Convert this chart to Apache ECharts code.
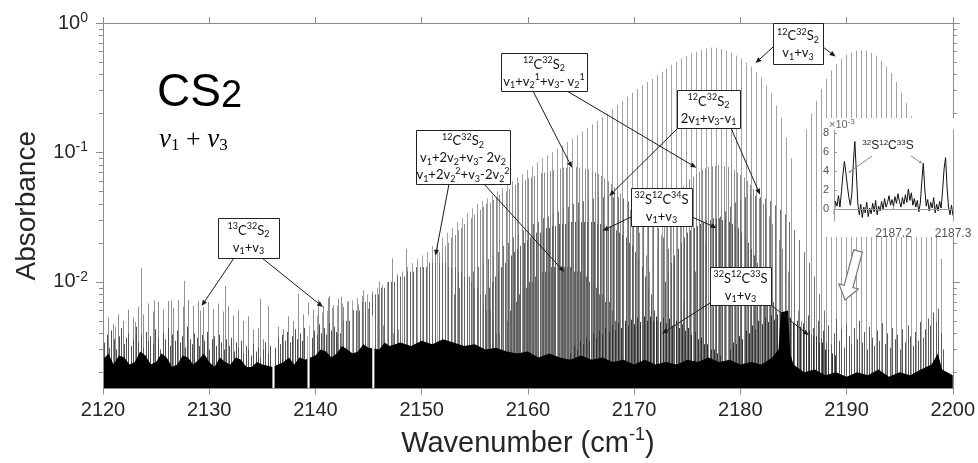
<!DOCTYPE html>
<html>
<head>
<meta charset="utf-8">
<title>CS2 v1+v3</title>
<script src="https://cdn.jsdelivr.net/npm/echarts@6.0.0/dist/echarts.min.js"></script>
<style>
  html, body { margin: 0; padding: 0; background: #fff; }
  #chart { width: 978px; height: 463px; }
</style>
</head>
<body>
<div id="chart"></div>
<script>
// log axis limits (absorbance)
var yMin = 0.0015, yMax = 1;
var majorTicks = [0.01, 0.1, 1];
var minorTicks = [0.002, 0.003, 0.004, 0.005, 0.006, 0.007, 0.008, 0.009,
  0.02, 0.03, 0.04, 0.05, 0.06, 0.07, 0.08, 0.09,
  0.2, 0.3, 0.4, 0.5, 0.6, 0.7, 0.8, 0.9];

// line peak heights in milli-absorbance, one value per line
// 12C32S2 v1+v3, P branch (from 2184.8 downwards)
var mainP_start = 2184.8, mainP_step = -0.47;
var mainP = [90, 130, 185, 230, 285, 330, 380, 420, 460, 495,
  530, 560, 590, 610, 630, 645, 645, 635, 620, 600,
  580, 555, 530, 500, 475, 445, 420, 395, 370, 350,
  330, 310, 290, 270, 250, 232, 215, 200, 188, 176,
  165, 155, 145, 136, 128, 120, 113, 106, 100, 95,
  90, 84, 78, 73, 68, 64, 60, 56, 53, 50,
  47, 44, 42, 40, 37, 34, 31, 29, 26, 24,
  22, 20, 19, 17, 16, 15, 14, 13, 12, 11.5,
  11, 10, 9.5, 9, 8.5, 8, 7.8, 7.5, 7.2, 7,
  6.8, 6.5, 6.3, 6, 5.8, 5.5];
// 12C32S2 v1+v3, R branch
var mainR_start = 2186.2, mainR_step = 0.47;
var mainR = [150, 200, 250, 310, 370, 430, 480, 530, 570, 590,
  610, 615, 610, 590, 560, 510, 460, 410, 350, 290,
  240, 190, 150, 110, 80, 50, 30, 15];

// 12C32S2 v1+v2+v3-v2 hot band
var hot1P_start = 2148.0, hot1P_step = 0.3;
var hot1P = [8, 9, 9, 10, 11, 11, 12, 13, 13, 14,
  15, 16, 17, 18, 19, 20, 22, 23, 25, 26,
  28, 30, 31, 33, 35, 36, 38, 40, 41, 43,
  45, 47, 48, 50, 52, 54, 56, 58, 59, 61,
  63, 64, 66, 67, 69, 70, 71, 72, 73, 74,
  75, 76, 76, 77, 77, 77, 76, 76, 75, 74,
  72, 70, 68, 66, 63, 60, 57, 54, 51, 48,
  44, 40, 36, 32, 28, 24, 20, 16, 12];
var hot1R_start = 2172.2, hot1R_step = 0.3;
var hot1R = [18, 23, 28, 33, 38, 43, 47, 51, 55, 59,
  62, 65, 68, 71, 73, 75, 77, 78, 79, 80,
  79, 78, 77, 75, 73, 70, 67, 64, 60, 56,
  52, 48, 44, 40, 36, 32, 28, 24, 21, 18,
  15, 12, 10, 8, 6, 5];

// 12C32S2 2v1+v3-v1
var hot2P_start = 2153.0, hot2P_step = 0.47;
var hot2P = [8, 9, 10, 11, 12, 13, 14, 15, 16, 17,
  19, 20, 22, 23, 25, 26, 28, 29, 31, 32,
  34, 35, 37, 38, 40, 41, 42, 43, 44, 45,
  45, 46, 45, 45, 44, 42, 40, 38, 35, 32,
  29, 26, 22, 18, 14, 10, 7];
var hot2R_start = 2175.7, hot2R_step = 0.47;
var hot2R = [12, 16, 20, 24, 28, 32, 35, 38, 41, 43,
  45, 46, 46, 45, 44, 42, 39, 36, 33, 29,
  25, 21, 17, 14, 11, 8, 6];

// 32S12C34S v1+v3
var iso34P_start = 2156.0, iso34P_step = 0.3;
var iso34P = [8, 9, 10, 11, 12, 13, 14, 15, 16, 17,
  18, 19, 20, 21, 22, 23, 24, 24, 25, 26,
  26, 27, 27, 28, 28, 28, 29, 29, 29, 29,
  29, 29, 29, 29, 29, 28, 28, 28, 27, 27,
  26, 25, 24, 23, 22, 20, 19, 17, 15, 13,
  11, 9, 8, 6, 5];
var iso34R_start = 2172.9, iso34R_step = 0.3;
var iso34R = [10, 12, 14, 16, 18, 20, 22, 24, 25, 26,
  27, 28, 29, 30, 30, 31, 31, 31, 30, 30,
  29, 28, 27, 26, 24, 22, 20, 18, 16, 14,
  12, 10, 9, 8, 7, 6, 5, 4];

// 12C32S2 v1+2v2+v3-2v2
var hot3P_start = 2142.0, hot3P_step = 0.3;
var hot3P = [4, 4, 5, 5, 5, 6, 6, 6, 7, 7,
  7, 8, 8, 8, 9, 9, 10, 10, 10, 11,
  11, 11, 12, 12, 12, 13, 13, 13, 13, 14,
  14, 14, 14, 14, 14, 13, 13, 13, 12, 12,
  11, 11, 10, 9, 9, 8, 7, 6, 6, 5,
  4, 4];
var hot3R_start = 2158.0, hot3R_step = 0.3;
var hot3R = [5, 6, 7, 7, 8, 9, 9, 10, 10, 11,
  11, 12, 12, 12, 13, 13, 13, 13, 13, 13,
  13, 12, 12, 12, 11, 11, 10, 10, 9, 8,
  8, 7, 7, 6, 5, 5, 4, 4, 4, 3];

// 32S12C33S v1+v3
var iso33P_start = 2164.0, iso33P_step = 0.3;
var iso33P = [2.8, 3.2, 3.0, 3.5, 3.3, 3.7, 3.5, 4.0, 3.7, 4.2,
  3.9, 4.4, 4.1, 4.6, 4.2, 4.8, 4.4, 5.0, 4.6, 5.1,
  4.7, 5.3, 4.9, 5.4, 5.0, 5.4, 5.0, 5.4, 4.9, 5.3,
  4.8, 5.2, 4.6, 5.0, 4.4, 4.7, 4.2, 4.4, 3.9, 4.1,
  3.6, 3.7, 3.3, 3.3, 3.0, 3.0, 2.8, 2.7];
var iso33R_start = 2179.0, iso33R_step = 0.3;
var iso33R = [3.0, 3.4, 3.3, 3.8, 3.6, 4.2, 4.0, 4.6, 4.3, 5.0,
  4.7, 5.3, 4.9, 5.5, 5.1, 5.6, 5.1, 5.5, 5.0, 5.3,
  4.8, 5.0, 4.5, 4.6, 4.1, 4.2, 3.8, 3.8, 3.4, 3.4,
  3.0, 3.0, 2.8, 2.7];

// 13C32S2 v1+v3
var c13P_start = 2120.0, c13P_step = 0.47;
var c13P = [4.5, 5.3, 4.7, 5.6, 5.0, 6.1, 5.3, 6.4, 5.6, 6.8,
  5.9, 7.0, 6.1, 7.1, 6.3, 7.2, 6.4, 7.2, 6.5, 7.1,
  6.4, 7.0, 6.2, 6.8, 5.9, 6.5, 5.5, 6.0, 5.0, 5.4,
  4.3, 4.4, 3.6];
var c13R_start = 2136.0, c13R_step = 0.47;
var c13R = [3.6, 4.5, 4.3, 5.4, 5.0, 6.2, 5.6, 6.9, 6.1, 7.3,
  6.5, 7.5, 6.6, 7.4, 6.4, 7.1, 6.1, 6.7, 5.7, 6.2,
  5.1, 5.6, 4.6, 5.0, 4.0, 4.3];

// weak unassigned lines near the noise floor
var weakLeft_start = 2120.1, weakLeft_step = 0.23;
var weakLeft = [3.4, 3.9, 3.1, 4.2, 3.6, 3.0, 3.8, 4.4, 3.3, 3.7,
  4.0, 3.2, 3.6, 4.5, 3.4, 3.9, 3.1, 4.1, 3.5, 3.8,
  3.3, 4.3, 3.7, 3.0, 4.0, 3.6, 4.4, 3.2, 3.9, 3.5,
  4.2, 3.4, 3.8, 3.1, 4.5, 3.6, 3.3, 4.0, 3.7, 3.2,
  3.9, 3.5, 4.1, 3.0, 3.6, 3.8, 3.2, 3.9, 3.4, 3.0,
  3.6, 3.2, 3.7, 2.9, 3.4, 3.1, 3.5, 2.8, 3.2, 3.0,
  2.7, 3.3, 2.9, 3.1, 2.6, 3.0, 3.4, 2.8, 3.2, 3.5,
  3.1, 3.7, 3.3, 3.9, 3.5, 4.1, 3.4, 3.8, 4.3, 3.6,
  4.0, 3.5, 4.4, 3.8, 4.6, 3.7, 4.2, 3.9, 4.7, 4.0,
  4.4, 3.9, 4.8, 4.2, 4.5, 4.1];
var weakHigh_start = 2185.9, weakHigh_step = 0.24;
var weakHigh = [4.8, 3.6, 5.5, 3.9, 4.4, 3.2, 5.0, 3.7, 4.2, 3.4,
  4.6, 3.3, 4.0, 5.2, 3.5, 4.3, 3.1, 4.7, 3.8, 3.3,
  4.4, 3.6, 5.0, 3.4, 4.1, 3.0, 4.5, 3.7, 3.2, 4.2,
  3.5, 4.8, 3.3, 4.0, 3.1, 4.4, 3.6, 3.9, 3.0, 4.3,
  3.4, 4.6, 3.8, 3.2, 4.1, 3.5, 4.9, 3.7, 4.3, 5.2,
  4.6, 5.8, 4.9, 6.2, 4.0, 3.0];

// isolated stronger lines in the low-wavenumber wing [wavenumber, mA]
var sparse = [[2121.1, 4.5], [2121.9, 4.6], [2123.0, 4.9], [2123.6, 12.7], [2124.8, 7.2],
  [2126.4, 7.2], [2127.6, 10.2], [2129.1, 6.0], [2131.5, 9.3], [2134.8, 7.4],
  [2135.5, 6.5], [2138.4, 8.1], [2141.3, 7.8], [2142.4, 7.7], [2144.5, 8.6],
  [2146.0, 10.0], [2147.2, 15.2], [2148.5, 18.0]];

// top of the unresolved black noise floor [wavenumber, mA]
var floor = [[2120, 2.5], [2120.5, 2.8], [2121, 2.3], [2121.5, 2.7], [2122, 2.6], [2122.5, 2.3],
  [2123, 2.4], [2123.5, 2.9], [2124, 2.7], [2124.5, 2.3], [2125, 2.4], [2125.5, 2.8],
  [2126, 2.6], [2126.5, 2.2], [2127, 2.3], [2127.5, 2.7], [2128, 2.6], [2128.5, 2.3],
  [2129, 2.5], [2129.5, 2.8], [2130, 2.4], [2130.5, 2.2], [2131, 2.6], [2131.5, 2.4],
  [2132, 2.3], [2132.5, 2.6], [2133, 2.5], [2133.5, 2.2], [2134, 2.2], [2134.5, 2.4],
  [2135, 2.3], [2136, 2.2], [2137, 2.4], [2137.5, 2.6], [2138, 2.3], [2138.5, 2.6], [2139, 2.5],
  [2140, 2.7], [2140.5, 3.0], [2141, 2.9], [2141.5, 2.6], [2142, 2.8], [2142.5, 3.2], [2143, 3.0],
  [2143.5, 2.8], [2144, 2.9], [2144.5, 3.3], [2145, 3.1], [2146, 3.0], [2146.5, 3.4],
  [2147, 3.2], [2148, 3.4], [2149, 3.2], [2150, 3.5], [2151, 3.3], [2152, 3.6], [2153, 3.4],
  [2154, 3.2], [2155, 3.3], [2156, 3.0], [2157, 3.1], [2158, 2.9], [2159, 2.8], [2160, 2.9],
  [2161, 2.6], [2162, 2.8], [2163, 2.6], [2164, 2.5], [2165, 2.7], [2166, 2.5], [2167, 2.6],
  [2168, 2.4], [2169, 2.5], [2170, 2.3], [2171, 2.5], [2172, 2.3], [2173, 2.4], [2174, 2.3],
  [2175, 2.5], [2176, 2.4], [2177, 2.6], [2178, 2.4], [2179, 2.5], [2180, 2.3], [2181, 2.4],
  [2182, 2.3], [2183, 2.6], [2183.6, 3.0], [2183.8, 5.8], [2184.5, 6.0], [2184.7, 2.8],
  [2185, 2.3], [2186, 2.0], [2187, 2.1], [2188, 1.9], [2189, 2.0], [2190, 1.85], [2191, 2.0],
  [2192, 1.9], [2193, 2.1], [2194, 1.85], [2195, 2.0], [2196, 1.9], [2197, 2.1], [2198, 2.3],
  [2198.6, 2.8], [2199, 2.1], [2200, 1.9]];

// wavenumber windows with no data
var gaps = [[2135.95, 2136.15], [2139.25, 2139.45], [2145.35, 2145.55]];

// inset trace, absorbance x 1e-3
var inset_start = 2187.1, inset_step = 0.0025;
var inset = [-0.5, 0.8, 0.3, 1.4, 0.2, 1.8, 3.6, 5.0, 3.8, 2.4,
  1.2, 0.4, 1.6, 4.8, 7.1, 3.9, 0.6, -0.6, 0.5, -0.9,
  0.2, -0.4, 0.7, -0.8, 0.1, -0.5, 0.6, -0.3, 0.9, -0.6,
  0.3, -0.2, 0.8, 0.0, 1.1, 0.2, 0.7, 1.4, 0.4, 1.0,
  0.3, 1.3, 0.6, 1.6, 0.8, 0.2, 1.2, 0.5, 1.5, 0.7,
  2.1, 0.9, 1.7, 0.4, 1.1, 0.2, 0.9, -0.3, 0.6, 2.8,
  4.8, 2.2, 0.3, 1.0, -0.2, 0.7, 0.1, 1.2, -0.4, 0.5,
  -0.2, 0.8, 0.1, 1.9, 4.2, 5.4, 2.3, 0.2, -0.6, 0.4, -0.7];

var font = 'Liberation Sans';
var axisGray = '#8c8c8c';

function lineSet(start, step, mA) {
  return mA.map(function (v, i) { return [+(start + i * step).toFixed(3), v / 1000]; });
}
function pairs(list) {
  return list.map(function (p) { return [p[0], p[1] / 1000]; });
}

function linesSeries(data, color) {
  return {
    type: 'custom', xAxisIndex: 0, yAxisIndex: 0, data: data, silent: true, z: 2,
    encode: { x: 0, y: 1 },
    renderItem: function (params, api) {
      var top = api.coord([api.value(0), api.value(1)]);
      var base = api.coord([api.value(0), yMin]);
      var x = Math.round(top[0]) + 0.5;
      return { type: 'line', shape: { x1: x, y1: top[1], x2: x, y2: base[1] },
        style: { stroke: color, lineWidth: 1 } };
    }
  };
}

var series = [
  linesSeries(lineSet(mainP_start, mainP_step, mainP).concat(lineSet(mainR_start, mainR_step, mainR)), '#a2a2a2'),
  linesSeries(pairs(sparse), '#939393'),
  linesSeries(lineSet(c13P_start, c13P_step, c13P).concat(lineSet(c13R_start, c13R_step, c13R)), '#8e8e8e'),
  linesSeries(lineSet(hot1P_start, hot1P_step, hot1P).concat(lineSet(hot1R_start, hot1R_step, hot1R)), '#8e8e8e'),
  linesSeries(lineSet(hot2P_start, hot2P_step, hot2P).concat(lineSet(hot2R_start, hot2R_step, hot2R)), '#727272'),
  linesSeries(lineSet(iso34P_start, iso34P_step, iso34P).concat(lineSet(iso34R_start, iso34R_step, iso34R)), '#5e5e5e'),
  linesSeries(lineSet(hot3P_start, hot3P_step, hot3P).concat(lineSet(hot3R_start, hot3R_step, hot3R)), '#666666'),
  linesSeries(lineSet(weakLeft_start, weakLeft_step, weakLeft), '#505050'),
  linesSeries(lineSet(weakHigh_start, weakHigh_step, weakHigh), '#5a5a5a'),
  linesSeries(lineSet(iso33P_start, iso33P_step, iso33P).concat(lineSet(iso33R_start, iso33R_step, iso33R)), '#333333'),
  {
    type: 'line', xAxisIndex: 0, yAxisIndex: 0, data: pairs(floor), symbol: 'none', silent: true, z: 2,
    lineStyle: { width: 0 }, itemStyle: { color: '#000' },
    areaStyle: { color: '#000', opacity: 1, origin: 'start' }
  },
  {
    type: 'custom', xAxisIndex: 0, yAxisIndex: 0, data: gaps, silent: true, z: 3,
    renderItem: function (params, api) {
      var a = api.coord([api.value(0), 0.0055]);
      var b = api.coord([api.value(1), yMin]);
      return { type: 'rect', shape: { x: a[0], y: a[1], width: Math.max(1.5, b[0] - a[0]), height: b[1] - a[1] },
        style: { fill: '#fff' } };
    }
  },
  {
    type: 'line', xAxisIndex: 2, yAxisIndex: 4, symbol: 'none', silent: true, z: 20,
    data: inset.map(function (v, i) { return [+(inset_start + i * inset_step).toFixed(4), v]; }),
    lineStyle: { color: '#111', width: 1 }
  }
];

function powLabel(v) {
  var e = Math.round(Math.log(v) / Math.LN10);
  return '{b|10}{s|' + e + '}';
}

function logAxis(pos, withLabels, ticks, len) {
  return {
    type: 'log', logBase: 10, gridIndex: 0, min: yMin, max: yMax, position: pos, z: 5,
    axisLine: { show: true, lineStyle: { color: axisGray, width: 1 } },
    axisTick: { show: true, length: len, customValues: ticks, lineStyle: { color: axisGray } },
    axisLabel: withLabels ? {
      customValues: majorTicks, formatter: powLabel, margin: 15, color: '#262626',
      rich: {
        b: { fontSize: 20, fontFamily: font, color: '#262626', lineHeight: 24 },
        s: { fontSize: 14, fontFamily: font, color: '#262626', lineHeight: 16, verticalAlign: 'top' }
      }
    } : { show: false },
    splitLine: { show: false }
  };
}

var yLeft = logAxis('left', true, majorTicks, 7);
yLeft.name = 'Absorbance';
yLeft.nameLocation = 'middle';
yLeft.nameGap = 62;
yLeft.nameTextStyle = { fontSize: 28, fontFamily: font, color: '#262626' };

var option = {
  animation: false,
  backgroundColor: '#fff',
  textStyle: { fontFamily: font },
  grid: [
    { left: 103, right: 24, top: 23, bottom: 73 },
    { left: 834, right: 25, top: 130, bottom: 242 }
  ],
  xAxis: [
    {
      type: 'value', gridIndex: 0, min: 2120, max: 2200, interval: 10, position: 'bottom', z: 5,
      axisLine: { lineStyle: { color: axisGray, width: 1 } },
      axisTick: { length: 6, lineStyle: { color: axisGray } },
      axisLabel: { fontSize: 20, color: '#262626', margin: 12, formatter: function (v) { return String(v); } },
      splitLine: { show: false },
      name: '{t|Wavenumber (cm}{s|-1}{t|)}', nameLocation: 'middle', nameGap: 38,
      nameTextStyle: {
        rich: {
          t: { fontSize: 29, fontFamily: font, color: '#262626', lineHeight: 34 },
          s: { fontSize: 18, fontFamily: font, color: '#262626', lineHeight: 22, verticalAlign: 'top' }
        }
      }
    },
    {
      type: 'value', gridIndex: 0, min: 2120, max: 2200, interval: 10, position: 'top', z: 5,
      axisLine: { lineStyle: { color: axisGray, width: 1 } },
      axisTick: { length: 6, lineStyle: { color: axisGray } },
      axisLabel: { show: false }, splitLine: { show: false }
    },
    {
      type: 'value', gridIndex: 1, min: 2187.1, max: 2187.3, interval: 0.1, position: 'bottom', z: 30,
      axisLine: { lineStyle: { color: '#999', width: 1 } },
      axisTick: { inside: true, length: 3, lineStyle: { color: '#999' } },
      axisLabel: {
        fontSize: 12, color: '#555', margin: 7,
        formatter: function (v) { return Math.abs(v - 2187.1) < 1e-6 ? '' : v.toFixed(1); }
      },
      splitLine: { show: false }
    },
    {
      type: 'value', gridIndex: 1, min: 2187.1, max: 2187.3, position: 'top', z: 30,
      axisLine: { lineStyle: { color: '#999', width: 1 } },
      axisTick: { show: false }, axisLabel: { show: false }, splitLine: { show: false }
    }
  ],
  yAxis: [
    yLeft,
    logAxis('left', false, minorTicks, 4),
    logAxis('right', false, majorTicks, 7),
    logAxis('right', false, minorTicks, 4),
    {
      type: 'value', gridIndex: 1, min: -1.26, max: 8.3, position: 'left', z: 30,
      axisLine: { show: true, lineStyle: { color: '#999', width: 1 } },
      axisTick: { show: true, inside: true, length: 3, customValues: [0, 2, 4, 6, 8], lineStyle: { color: '#999' } },
      axisLabel: { customValues: [0, 2, 4, 6, 8], fontSize: 11, color: '#555', margin: 5 },
      splitLine: { show: false }
    },
    {
      type: 'value', gridIndex: 1, min: -1.26, max: 8.3, position: 'right', z: 30,
      axisLine: { show: true, lineStyle: { color: '#999', width: 1 } },
      axisTick: { show: false }, axisLabel: { show: false }, splitLine: { show: false }
    }
  ],
  series: series
};

var chart = echarts.init(document.getElementById('chart'));
chart.setOption(option);

// ---- annotations ----
var boxRich = {
  m: { fontSize: 13, fontFamily: 'Lato', fill: '#111', lineHeight: 17 },
  p: { fontSize: 9, fontFamily: 'Lato', fill: '#111', lineHeight: 11, verticalAlign: 'top' },
  b: { fontSize: 9, fontFamily: 'Lato', fill: '#111', lineHeight: 11, verticalAlign: 'bottom' }
};
var t12 = '{p|12}{m|C}{p|32}{m|S}{b|2}';
var tv13 = '{m|v}{b|1}{m|+v}{b|3}';

// box in pixels [x, y, w, h], arrow starts in pixels, arrow tips in data coords [wavenumber, absorbance]
var notes = [
  { text: '{p|13}{m|C}{p|32}{m|S}{b|2}\n' + tv13, box: [218, 218, 61, 40],
    from: [[234, 258], [262, 258]], tips: [[2129.28, 0.0065], [2140.71, 0.0064]] },
  { text: t12 + '\n{m|v}{b|1}{m|+2v}{b|2}{m|+v}{b|3}{m|- 2v}{b|2}\n{m|v}{b|1}{m|+2v}{b|2}{p|2}{m|+v}{b|3}{m|-2v}{b|2}{p|2}',
    box: [416, 130, 94, 54], from: [[449, 184], [484, 184]], tips: [[2151.30, 0.0159], [2163.43, 0.0119]] },
  { text: t12 + '\n{m|v}{b|1}{m|+v}{b|2}{p|1}{m|+v}{b|3}{m|- v}{b|2}{p|1}', box: [501, 53, 86, 38],
    from: [[533, 91], [567, 91]], tips: [[2164.16, 0.0762], [2175.87, 0.0762]] },
  { text: t12 + '\n{m|2v}{b|1}{m|+v}{b|3}{m|-v}{b|1}', box: [677, 90, 63, 38],
    from: [[678, 128], [731, 128]], tips: [[2167.66, 0.0461], [2181.86, 0.0471]] },
  { text: '{p|32}{m|S}{p|12}{m|C}{p|34}{m|S}\n' + tv13, box: [631, 188, 61, 38],
    from: [[631, 217], [692, 217]], tips: [[2167.03, 0.0248], [2177.77, 0.0261]] },
  { text: '{p|32}{m|S}{p|12}{m|C}{p|33}{m|S}\n' + tv13, box: [710, 267, 61, 38],
    from: [[710, 303], [771, 305]], tips: [[2172.62, 0.00398], [2186.46, 0.00386]] },
  { text: t12 + '\n' + tv13, box: [773, 23, 50, 41],
    from: [[773, 47], [823, 47]], tips: [[2181.43, 0.49], [2188.97, 0.55]] }
];

function arrow(from, to, color, head, half) {
  var dx = to[0] - from[0], dy = to[1] - from[1];
  var len = Math.sqrt(dx * dx + dy * dy);
  var ux = dx / len, uy = dy / len;
  var bx = to[0] - ux * head, by = to[1] - uy * head;
  return [
    { type: 'line', z: 50, silent: true, shape: { x1: from[0], y1: from[1], x2: bx, y2: by },
      style: { stroke: color, lineWidth: 1 } },
    { type: 'polygon', z: 50, silent: true,
      shape: { points: [[to[0], to[1]], [bx - uy * half, by + ux * half], [bx + uy * half, by - ux * half]] },
      style: { fill: color } }
  ];
}

var g = [];
// white card behind the inset
g.push({ type: 'rect', z: 10, silent: true, shape: { x: 826, y: 118, width: 141, height: 119 }, style: { fill: '#fff' } });
g.push({ type: 'text', z: 31, silent: true, x: 829, y: 118,
  style: { text: '{m|\u00d710}{p|-3}', rich: {
    m: { fontSize: 11, fontFamily: font, fill: '#666', lineHeight: 13 },
    p: { fontSize: 8, fontFamily: font, fill: '#666', lineHeight: 9, verticalAlign: 'top' } } } });
g.push({ type: 'text', z: 31, silent: true, x: 888, y: 146,
  style: { text: '{p|32}{m|S}{p|12}{m|C}{p|33}{m|S}', align: 'center', verticalAlign: 'middle',
    textAlign: 'center', textVerticalAlign: 'middle', rich: {
    m: { fontSize: 12, fontFamily: font, fill: '#222', lineHeight: 15 },
    p: { fontSize: 8, fontFamily: font, fill: '#222', lineHeight: 9, verticalAlign: 'top' } } } });
var insetTips = [[2187.124, 3.8], [2187.248, 4.8]];
var insetFrom = [[872, 156], [911, 156]];
insetTips.forEach(function (t, i) {
  var p = chart.convertToPixel({ xAxisIndex: 2, yAxisIndex: 4 }, t);
  g = g.concat(arrow(insetFrom[i], p, '#888', 3, 1.5));
});

// hollow block arrow pointing from the inset down to the main spectrum
(function () {
  var c = [858, 251], tip = [845, 300];
  var dx = tip[0] - c[0], dy = tip[1] - c[1], len = Math.sqrt(dx * dx + dy * dy);
  var ux = dx / len, uy = dy / len, nx = -uy, ny = ux;
  var nk = [tip[0] - ux * 14, tip[1] - uy * 14];
  var pts = [
    [c[0] + nx * 4.5, c[1] + ny * 4.5], [nk[0] + nx * 4.5, nk[1] + ny * 4.5], [nk[0] + nx * 10, nk[1] + ny * 10],
    tip, [nk[0] - nx * 10, nk[1] - ny * 10], [nk[0] - nx * 4.5, nk[1] - ny * 4.5], [c[0] - nx * 4.5, c[1] - ny * 4.5]
  ];
  g.push({ type: 'polygon', z: 50, silent: true, shape: { points: pts },
    style: { fill: '#fff', stroke: '#777', lineWidth: 1.2 } });
})();

notes.forEach(function (n) {
  n.tips.forEach(function (t, i) {
    var p = chart.convertToPixel({ xAxisIndex: 0, yAxisIndex: 0 }, t);
    g = g.concat(arrow(n.from[i], p, '#1a1a1a', 6, 2.5));
  });
  g.push({ type: 'rect', z: 51, silent: true,
    shape: { x: n.box[0] + 0.5, y: n.box[1] + 0.5, width: n.box[2], height: n.box[3] },
    style: { fill: '#fff', stroke: '#222', lineWidth: 1 } });
  g.push({ type: 'text', z: 52, silent: true, x: n.box[0] + n.box[2] / 2, y: n.box[1] + n.box[3] / 2 + 1,
    style: { text: n.text, rich: boxRich, align: 'center', verticalAlign: 'middle',
      textAlign: 'center', textVerticalAlign: 'middle' } });
});

// big compound label
g.push({ type: 'text', z: 52, silent: true, x: 157, y: 70,
  style: { text: '{a|CS}{b|2}', verticalAlign: 'top', textVerticalAlign: 'top', rich: {
    a: { fontSize: 46, fontFamily: font, fill: '#000', lineHeight: 46, verticalAlign: 'top' },
    b: { fontSize: 38, fontFamily: font, fill: '#000', lineHeight: 38, verticalAlign: 'bottom' } } } });
g.push({ type: 'text', z: 52, silent: true, x: 159, y: 126,
  style: { text: '{v|\u03bd}{s|1}{o| + }{v|\u03bd}{s|3}', verticalAlign: 'top', textVerticalAlign: 'top', rich: {
    v: { fontSize: 27, fontFamily: 'Liberation Serif', fontStyle: 'italic', fill: '#000', lineHeight: 28 },
    s: { fontSize: 17, fontFamily: 'Liberation Serif', fill: '#000', lineHeight: 17, verticalAlign: 'bottom' },
    o: { fontSize: 26, fontFamily: 'Liberation Serif', fill: '#000', lineHeight: 28 } } } });

chart.setOption({ graphic: { elements: g } });
</script>
</body>
</html>
